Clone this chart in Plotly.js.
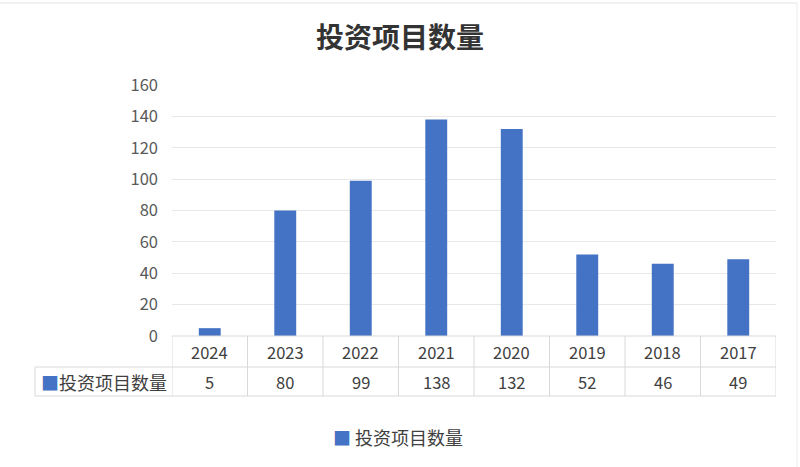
<!DOCTYPE html>
<html>
<head>
<meta charset="utf-8">
<script src="https://cdn.plot.ly/plotly-3.0.1.min.js"></script>
<style>html,body{margin:0;padding:0;background:#fff;}#chart{width:800px;height:467px;}</style>
</head>
<body>
<div id="chart"></div>
<script>
const years = ["2024", "2023", "2022", "2021", "2020", "2019", "2018", "2017"];
const counts = [5, 80, 99, 138, 132, 52, 46, 49];
const seriesName = "投资项目数量";
const chartTitle = "投资项目数量";
const yTicks = [0, 20, 40, 60, 80, 100, 120, 140, 160];

const W = 800, H = 467;
const M = {l: 172, r: 24, t: 85, b: 131};
const plotH = H - M.t - M.b, plotW = W - M.l - M.r;
const py = p => (H - M.b - p) / plotH;      // pixel y -> paper y
const px = p => (p - M.l) / plotW;          // pixel x -> paper x

const font = '"Noto Sans CJK SC", "Noto Sans", sans-serif';
const txt = '#404040';
const border = '#d9d9d9';
const blue = '#4472c4';

const row1Top = 336, row1Bot = 367, row2Bot = 396, headLeft = 35;

const shapes = [];
const annotations = [];
shapes.push({type:'line', xref:'paper', yref:'paper', x0:0, x1:1, y0:py(row1Top), y1:py(row1Top), line:{color:border, width:1}});
shapes.push({type:'line', xref:'paper', yref:'paper', x0:px(headLeft), x1:1, y0:py(row1Bot), y1:py(row1Bot), line:{color:border, width:1}});
shapes.push({type:'line', xref:'paper', yref:'paper', x0:px(headLeft), x1:1, y0:py(row2Bot), y1:py(row2Bot), line:{color:border, width:1}});
shapes.push({type:'line', xref:'paper', yref:'paper', x0:px(headLeft), x1:px(headLeft), y0:py(row1Bot), y1:py(row2Bot), line:{color:border, width:1}});
for (let i = 0; i <= years.length; i++) {
  shapes.push({type:'line', xref:'x', yref:'paper', x0:i-0.5, x1:i-0.5, y0:py(row1Top), y1:py(row2Bot), line:{color:border, width:1}});
}
shapes.push({type:'line', xref:'paper', yref:'paper', x0:px(0), x1:px(797), y0:py(3), y1:py(3), line:{color:'#e3e3e3', width:1}});
shapes.push({type:'line', xref:'paper', yref:'paper', x0:px(797), x1:px(797), y0:py(3), y1:py(467), line:{color:'#ececec', width:1}});

years.forEach((y, i) => {
  annotations.push({xref:'x', yref:'paper', x:i, y:py((row1Top+row1Bot)/2), text:y, showarrow:false,
    font:{family:font, size:16.5, color:txt}, xanchor:'center', yanchor:'middle'});
  annotations.push({xref:'x', yref:'paper', x:i, y:py((row1Bot+row2Bot)/2), text:String(counts[i]), showarrow:false,
    font:{family:font, size:16.5, color:txt}, xanchor:'center', yanchor:'middle'});
});
annotations.push({xref:'paper', yref:'paper', x:px(39), y:py((row1Bot+row2Bot)/2),
  text:'<span style="color:'+blue+'">■</span>' + seriesName, showarrow:false,
  font:{family:font, size:18, color:txt}, xanchor:'left', yanchor:'middle'});
// legend (drawn as annotation for exact spacing)
annotations.push({xref:'paper', yref:'paper', x:px(398), y:py(437),
  text:'<span style="color:'+blue+'">■</span> ' + seriesName, showarrow:false,
  font:{family:font, size:18, color:txt}, xanchor:'center', yanchor:'middle'});

const data = [{
  type:'bar', x:years, y:counts, name:seriesName,
  marker:{color:blue}, hoverinfo:'x+y', showlegend:false
}];

const layout = {
  width:W, height:H, margin:M,
  paper_bgcolor:'#ffffff', plot_bgcolor:'#ffffff',
  title:{text:'<b>'+chartTitle+'</b>', x:0.5, xref:'container', xanchor:'center', y:1-38/H, yref:'container', yanchor:'middle',
    font:{family:'"Noto Sans CJK SC", sans-serif', size:28, color:'#333333'}},
  bargap:0.71,
  xaxis:{type:'category', range:[-0.5, years.length-0.5], showticklabels:false, showgrid:false, zeroline:false, showline:false, ticks:''},
  yaxis:{range:[0,160], tickvals:yTicks, showgrid:true, gridcolor:'#e8e8e8', gridwidth:1, zeroline:false, showline:false, ticks:'',
    ticklabelstandoff:13, tickfont:{family:font, size:16.5, color:'#595959'}},
  showlegend:false,
  shapes:shapes, annotations:annotations
};

Plotly.newPlot('chart', data, layout, {displayModeBar:false, staticPlot:true});
</script>
</body>
</html>
